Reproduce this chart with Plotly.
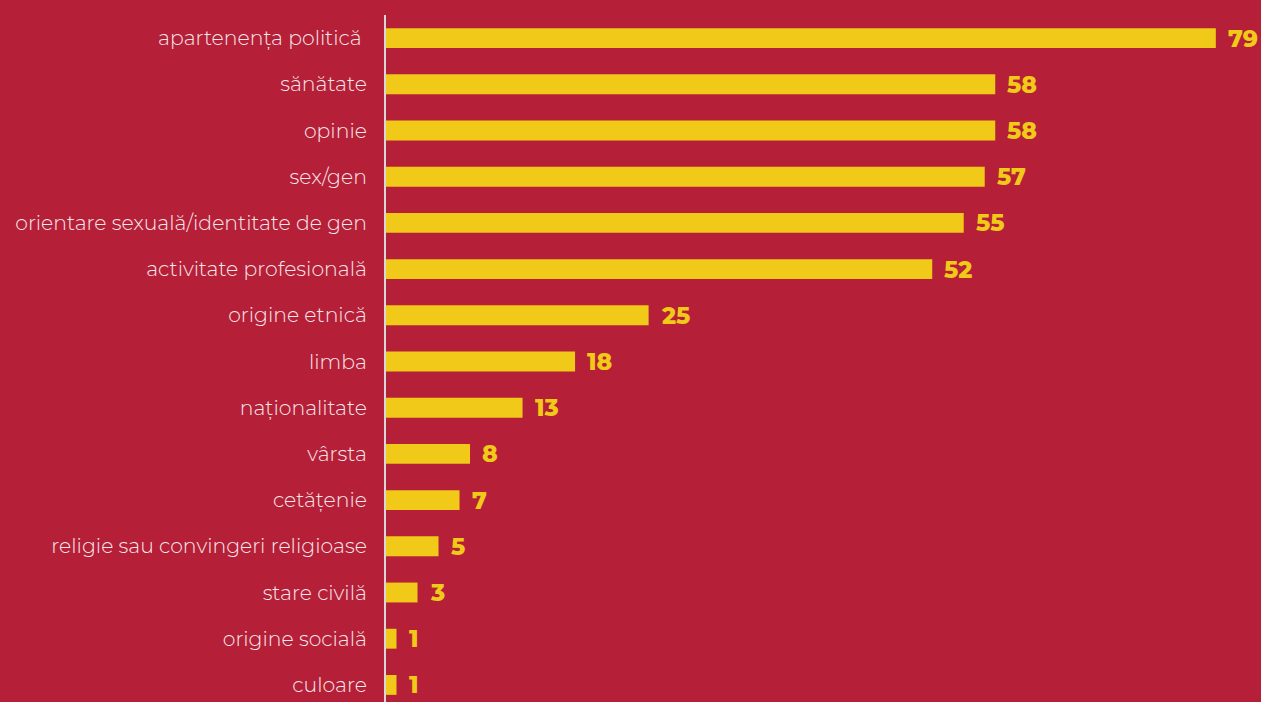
import plotly.graph_objects as go

categories = [
    "apartenența politică ", "sănătate", "opinie", "sex/gen",
    "orientare sexuală/identitate de gen", "activitate profesională",
    "origine etnică", "limba", "naționalitate", "vârsta", "cetățenie",
    "religie sau convingeri religioase", "stare civilă", "origine socială", "culoare",
]
values = [79, 58, 58, 57, 55, 52, 25, 18, 13, 8, 7, 5, 3, 1, 1]

BG = "#B61F38"
BAR = "#F1C918"

fig = go.Figure(go.Bar(
    x=values, y=categories, orientation="h",
    marker=dict(color=BAR, line=dict(width=0)),
    width=0.43,
))

for c, v in zip(categories, values):
    fig.add_annotation(x=v, y=c, text=f"{v}", showarrow=False,
                       xanchor="left", xshift=10,
                       font=dict(family="Montserrat, Lato, sans-serif", size=23.5,
                                 weight=800, color=BAR))

fig.update_layout(
    width=1261, height=702,
    paper_bgcolor=BG, plot_bgcolor=BG,
    margin=dict(l=386, r=0, t=15, b=0),
    showlegend=False,
    xaxis=dict(range=[0, 83.3], visible=False, showgrid=False, zeroline=False),
    yaxis=dict(type="category", range=[14.37, -0.5], showline=True,
               linecolor="#D9D6D8", linewidth=2, showgrid=False, zeroline=False,
               ticks="", ticklabelstandoff=13,
               tickfont=dict(family="Montserrat, Lato, sans-serif", size=20.4,
                             weight=300, color="#F7E8EA")),
)

fig.write_html("out.html", config={"displayModeBar": False},
               post_script="document.body.style.margin='0';")
